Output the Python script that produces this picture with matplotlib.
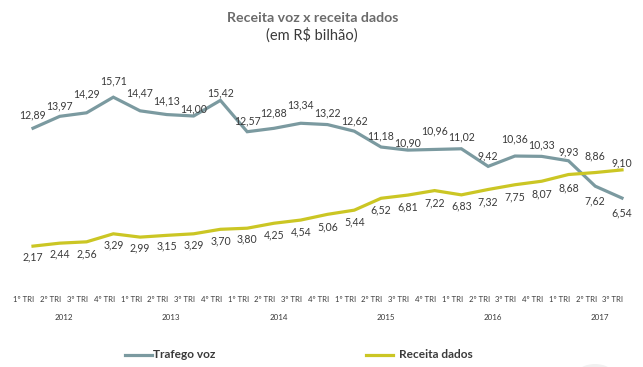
"""Receita voz x receita dados, quarterly, 2012-2017."""

import matplotlib
matplotlib.use("Agg")
import matplotlib.pyplot as plt
import matplotlib.transforms as mtransforms
from matplotlib.patches import Circle
from matplotlib.lines import Line2D

plt.rcParams.update({"font.family": ["Lato", "DejaVu Sans"]})

# ---- data -----------------------------------------------------------------
quarters = ["1º TRI", "2º TRI", "3º TRI", "4º TRI"]
years = ["2012", "2013", "2014", "2015", "2016", "2017"]
n_quarters = 23  # 2012 Q1 .. 2017 Q3

voz = [12.89, 13.97, 14.29, 15.71, 14.47, 14.13, 14.00, 15.42,
       12.57, 12.88, 13.34, 13.22, 12.62, 11.18, 10.90, 10.96,
       11.02, 9.42, 10.36, 10.33, 9.93, 7.62, 6.54]
dados = [2.17, 2.44, 2.56, 3.29, 2.99, 3.15, 3.29, 3.70,
         3.80, 4.25, 4.54, 5.06, 5.44, 6.52, 6.81, 7.22,
         6.83, 7.32, 7.75, 8.07, 8.68, 8.86, 9.10]

# label offsets (px, + = up), layout only
voz_dy = [13, 10, 19, 16, 18, 14, 7, 7, 11, 15, 18, 12, 10, 11, 7, 19,
          12, 10, 17, 11, 9, -15, -15]
dados_dy = [-11, -11, -12, -11, -11, -11, -11, -12, -11, -12, -12, -13,
            -12, -12, -12, -12, -11, -12, -12, -13, -13, 17, 7]

VOZ_C = "#7b9aa0"
DADOS_C = "#cbc624"
INK = "#3a3a3a"
TITLE_C = "#6b6b6b"

W, H, DPI = 643, 367, 100
fig = plt.figure(figsize=(W / DPI, H / DPI), dpi=DPI)
fig.patch.set_facecolor("white")

# axes: x index 0 at px 33, index 22 at px 622; y=0 at px 270, 11 px/unit
x0, x22 = 33, 622
step = (x22 - x0) / 22
left = x0 - 0.5 * step
right = x22 + 0.5 * step
ax = fig.add_axes([left / W, 1 - 270 / H, (right - left) / W, 187 / H])
ax.set_xlim(-0.5, 22.5)
ax.set_ylim(0, 17)
for s in ax.spines.values():
    s.set_visible(False)
ax.set_yticks([])

xs = list(range(n_quarters))
ax.plot(xs, voz, color=VOZ_C, lw=2.3, solid_joinstyle="miter", zorder=3)
ax.plot(xs, dados, color=DADOS_C, lw=2.3, solid_joinstyle="miter", zorder=3)


def fmt(v):
    return f"{v:.2f}".replace(".", ",")


px = 72 / DPI
for x, v, dy in zip(xs, voz, voz_dy):
    ax.annotate(fmt(v), (x, v), xytext=(0, dy * px), textcoords="offset points",
                ha="center", va="center", fontsize=7.6, color=INK, zorder=5)
for x, v, dy in zip(xs, dados, dados_dy):
    ax.annotate(fmt(v), (x, v), xytext=(0, dy * px), textcoords="offset points",
                ha="center", va="center", fontsize=7.6, color=INK, zorder=5)

# category axis: quarter labels and years
tick_labels = [quarters[i % 4] for i in range(n_quarters)]
ax.set_xticks(xs)
ax.set_xticklabels(tick_labels, fontsize=5.6, color=INK)
ax.tick_params(axis="x", length=0, pad=19)
shift = mtransforms.ScaledTranslation(-9 / DPI, 0, fig.dpi_scale_trans)
for lab in ax.get_xticklabels():
    lab.set_transform(lab.get_transform() + shift)

trans = mtransforms.blended_transform_factory(ax.transData, fig.transFigure)
for i, yr in enumerate(years):
    ax.text(4 * i + 1.5 - 9 / step, 1 - 317 / H, yr, transform=trans,
            ha="center", va="center", fontsize=5.8, color=INK)

# title
fig.text(313 / W, 1 - 18 / H, "Receita voz x receita dados", ha="center",
         va="center", fontsize=10.2, fontweight="bold", color=TITLE_C)
fig.text(312 / W, 1 - 35 / H, "(em R$ bilhão)", ha="center", va="center",
         fontsize=10.5, color=INK)

# legend
fig.add_artist(Line2D([125 / W, 152 / W], [1 - 355 / H] * 2, color=VOZ_C,
                      lw=2.3, transform=fig.transFigure))
fig.text(153 / W, 1 - 355 / H, "Trafego voz", ha="left", va="center",
         fontsize=8.6, fontweight="bold", color=INK)
fig.add_artist(Line2D([366 / W, 393 / W], [1 - 355 / H] * 2, color=DADOS_C,
                      lw=2.3, transform=fig.transFigure))
fig.text(399 / W, 1 - 355 / H, "Receita dados", ha="left", va="center",
         fontsize=8.6, fontweight="bold", color=INK)

# faint page badge bottom right
fig.add_artist(Circle((595 / W, 1 - 375 / H), 18 / W, color="#f1f1f1",
                      transform=fig.transFigure, zorder=0))

fig.savefig("out.png", dpi=DPI, facecolor="white")
